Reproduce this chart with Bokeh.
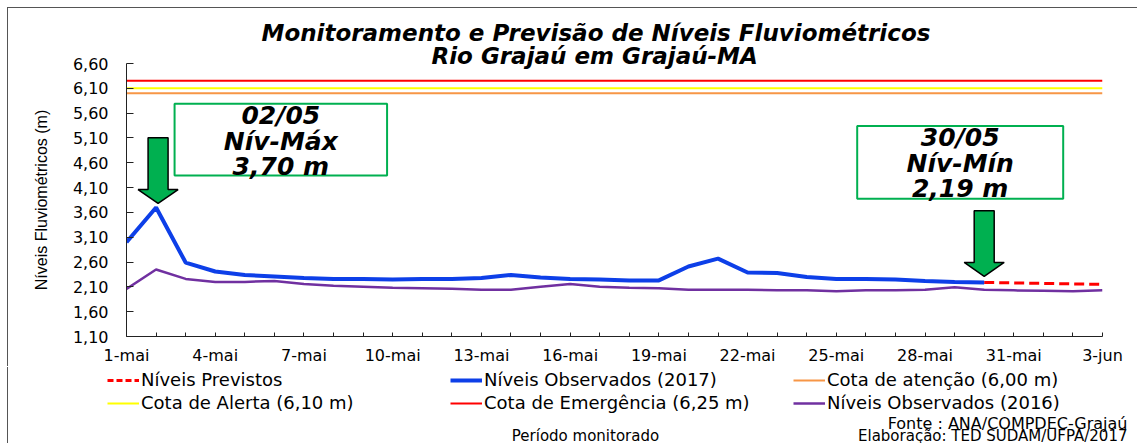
from bokeh.plotting import figure
from bokeh.layouts import column
from bokeh.models import (Range1d, FixedTicker, CustomJSTickFormatter, Legend, LegendItem,
                          Label, BoxAnnotation, Title)
from bokeh.embed import file_html
from bokeh.resources import INLINE

# ---------------- data ----------------
dias_obs_2017 = list(range(1, 31))          # 1-mai .. 30-mai
niveis_obs_2017 = [3.00, 3.70, 2.59, 2.41, 2.34, 2.31, 2.28, 2.26, 2.26, 2.25,
                   2.26, 2.26, 2.28, 2.34, 2.29, 2.26, 2.25, 2.23, 2.23, 2.51,
                   2.67, 2.39, 2.38, 2.30, 2.26, 2.26, 2.25, 2.22, 2.20, 2.19]
dias_previstos = [30, 31, 32, 33, 34]
niveis_previstos = [2.19, 2.18, 2.17, 2.16, 2.15]
dias_obs_2016 = list(range(1, 35))          # 1-mai .. 3-jun
niveis_obs_2016 = [2.06, 2.45, 2.26, 2.20, 2.20, 2.22, 2.16, 2.12, 2.10, 2.08,
                   2.07, 2.06, 2.04, 2.04, 2.10, 2.16, 2.10, 2.08, 2.07, 2.04,
                   2.04, 2.04, 2.03, 2.03, 2.01, 2.03, 2.03, 2.04, 2.09, 2.04,
                   2.03, 2.02, 2.01, 2.03]
cota_atencao = 6.00
cota_alerta = 6.10
cota_emergencia = 6.25
y_ticks = [1.1, 1.6, 2.1, 2.6, 3.1, 3.6, 4.1, 4.6, 5.1, 5.6, 6.1, 6.6]
dias_eixo = list(range(1, 35))
x_tick_dias = [1, 4, 7, 10, 13, 16, 19, 22, 25, 28, 31, 34]
x_tick_rotulos = ["1-mai", "4-mai", "7-mai", "10-mai", "13-mai", "16-mai",
                  "19-mai", "22-mai", "25-mai", "28-mai", "31-mai", "3-jun"]

# ---------------- layout (page pixels; content starts at 8,8) ----------------
O = 8
W = 1130
L, R, T, B = 118, 36, 55, 30
H_MAIN = T + 274 + B
H_BOT = 76
FW, FH = W - L - R, 274
x0, x1 = dias_eixo[0], dias_eixo[-1]
y0, y1 = y_ticks[0], y_ticks[-1]

def dxp(px):
    return px * (x1 - x0) / FW

def dyp(px):
    return px * (y1 - y0) / FH

BLUE = "#0D3FE8"
PURPLE = "#7030A0"
RED = "#FF0000"
YELLOW = "#FFFF00"
ORANGE = "#F79646"
GREEN = "#00B050"
FONT = "DejaVu Sans"

p = figure(width=W, height=H_MAIN, x_range=Range1d(x0, x1), y_range=Range1d(y0, y1),
           output_backend="svg", toolbar_location=None, title=None, frame_align=False,
           min_border_left=L, min_border_right=R, min_border_top=T, min_border_bottom=B)
p.outline_line_color = None
p.xgrid.visible = False
p.ygrid.visible = False
p.background_fill_color = "white"
p.border_fill_color = "white"
p.styles = {"box-shadow": "-1px -1px 0 0 #555"}

# titles
t2 = Title(text="Rio Grajaú em Grajaú-MA", align="left", offset=305, standoff=-10,
           vertical_align="bottom", text_font=FONT, text_font_style="bold italic",
           text_font_size="23px", text_color="black")
t1 = Title(text="Monitoramento e Previsão de Níveis Fluviométricos", align="left", offset=135,
           standoff=0, vertical_align="bottom", text_font=FONT, text_font_style="bold italic",
           text_font_size="23px", text_color="black")
p.add_layout(t2, "above")
p.add_layout(t1, "above")

# axes
p.xaxis.ticker = FixedTicker(ticks=dias_eixo)
p.xaxis.formatter = CustomJSTickFormatter(
    args=dict(d=x_tick_dias, r=x_tick_rotulos),
    code="const i = d.indexOf(Math.round(tick)); return i >= 0 ? r[i] : '';")
p.yaxis.ticker = FixedTicker(ticks=y_ticks)
p.yaxis.formatter = CustomJSTickFormatter(code="return tick.toFixed(2).replace('.', ',');")
for ax in (p.xaxis[0], p.yaxis[0]):
    ax.axis_line_color = "#222222"
    ax.major_tick_line_color = "#222222"
    ax.minor_tick_line_color = None
    ax.major_tick_out = 0
    ax.major_label_text_font = FONT
    ax.major_label_text_font_size = "16px"
    ax.major_label_text_color = "black"
p.xaxis.major_tick_in = 4
p.xaxis.major_label_standoff = 9
p.yaxis.major_tick_in = 7
p.yaxis.major_label_standoff = 18
p.yaxis.axis_label = "Níveis Fluviométricos (m)"
p.yaxis.axis_label_text_font = "Liberation Sans"
p.yaxis.axis_label_text_font_style = "normal"
p.yaxis.axis_label_text_font_size = "16px"
p.yaxis.axis_label_text_color = "black"
p.yaxis.axis_label_standoff = 20

# threshold lines
p.line([x0, x1], [cota_emergencia, cota_emergencia], line_color=RED, line_width=2)
p.line([x0, x1], [cota_alerta, cota_alerta], line_color=YELLOW, line_width=2)
p.line([x0, x1], [cota_atencao, cota_atencao], line_color=ORANGE, line_width=2)

# series
p.line(dias_obs_2016, niveis_obs_2016, line_color=PURPLE, line_width=2.5)
p.line(dias_previstos, niveis_previstos, line_color=RED, line_width=3, line_dash="10 5")
p.line(dias_obs_2017, niveis_obs_2017, line_color=BLUE, line_width=4)

# annotations: max & min
i_max = niveis_obs_2017.index(max(niveis_obs_2017))
i_min = len(niveis_obs_2017) - 1 - niveis_obs_2017[::-1].index(min(niveis_obs_2017))

def arrow(xc, ytip):
    hw_s, hw_h, hh, ln = 10, 20, 14, 66
    xs = [xc, xc - dxp(hw_h), xc - dxp(hw_s), xc - dxp(hw_s), xc + dxp(hw_s), xc + dxp(hw_s), xc + dxp(hw_h)]
    ys = [ytip, ytip + dyp(hh), ytip + dyp(hh), ytip + dyp(ln), ytip + dyp(ln), ytip + dyp(hh), ytip + dyp(hh)]
    p.patch(xs, ys, fill_color=GREEN, line_color="black", line_width=1.5)

def box(xp, yp, left, right, top, bottom, lines):
    b = BoxAnnotation(left=xp + dxp(left), right=xp + dxp(right),
                      top=yp + dyp(top), bottom=yp + dyp(bottom),
                      fill_color="white", fill_alpha=1, line_color=GREEN, line_alpha=1,
                      line_width=2)
    p.add_layout(b)
    xc = xp + dxp((left + right) / 2)
    for off, txt in zip([12, 38, 63], lines):
        p.add_layout(Label(x=xc, y=yp + dyp(top - off), text=txt, text_align="center",
                           text_baseline="middle", text_font=FONT, text_font_style="bold italic",
                           text_font_size="25px", text_color="black"))

xm, ym = dias_obs_2017[i_max], niveis_obs_2017[i_max]
arrow(xm + dxp(2), ym + dyp(4))
box(xm, ym, 18.5, 231, 104, 32, ["02/05", "Nív-Máx", "3,70 m"])

xn, yn = dias_obs_2017[i_min], niveis_obs_2017[i_min]
arrow(xn, yn + dyp(6))
box(xn, yn, -127, 79, 157, 84, ["30/05", "Nív-Mín", "2,19 m"])

# ---------------- bottom strip: legend + footers (page pixel coordinates) ----------------
q = figure(width=W, height=H_BOT, x_range=Range1d(O, O + W), y_range=Range1d(443, 443 - H_BOT),
           output_backend="svg", toolbar_location=None, title=None, frame_align=False,
           x_axis_type=None, y_axis_type=None, min_border=0)
q.outline_line_color = None
q.xgrid.visible = False
q.ygrid.visible = False
q.styles = {"box-shadow": "-1px 0 0 0 #555"}

# legend proxies (same series, not drawn in this strip)
g_prev = q.line(dias_previstos, niveis_previstos, line_color=RED, line_width=3,
                line_dash="6 3", visible=False)
g_alerta = q.line([x0, x1], [cota_alerta, cota_alerta], line_color=YELLOW, line_width=2, visible=False)
g_2017 = q.line(dias_obs_2017, niveis_obs_2017, line_color=BLUE, line_width=4, visible=False)
g_emerg = q.line([x0, x1], [cota_emergencia, cota_emergencia], line_color=RED, line_width=2, visible=False)
g_aten = q.line([x0, x1], [cota_atencao, cota_atencao], line_color=ORANGE, line_width=2, visible=False)
g_2016 = q.line(dias_obs_2016, niveis_obs_2016, line_color=PURPLE, line_width=2.5, visible=False)

def legend(items, x):
    lg = Legend(items=[LegendItem(label=t, renderers=[r]) for t, r in items],
                location=(x, 30), orientation="vertical",
                padding=0, margin=0, spacing=2, glyph_width=32, glyph_height=20,
                label_height=20, label_standoff=2, label_text_font=FONT,
                label_text_font_size="18px", label_text_color="black",
                border_line_alpha=0, background_fill_alpha=0,
                inactive_fill_alpha=0)
    q.add_layout(lg, "center")

legend([("Níveis Previstos", g_prev), ("Cota de Alerta (6,10 m)", g_alerta)], 99)
legend([("Níveis Observados (2017)", g_2017), ("Cota de Emergência (6,25 m)", g_emerg)], 442)
legend([("Cota de atenção (6,00 m)", g_aten), ("Níveis Observados (2016)", g_2016)], 785)

def lab(txt, x, y, size, align="center"):
    q.add_layout(Label(x=x, y=y, text=txt, text_align=align, text_baseline="middle",
                       text_font=FONT, text_font_size=size, text_color="black"))

lab("Fonte : ANA/COMPDEC-Grajaú", 1127, 423, "16px", align="right")
lab("Elaboração: TED SUDAM/UFPA/2017", 1127, 435, "15px", align="right")
lab("Período monitorado", 585, 435, "15px")

lay = column(p, q, spacing=0, styles={"margin": "8px 0 0 8px"})
open("out.html", "w").write(file_html(lay, INLINE))
